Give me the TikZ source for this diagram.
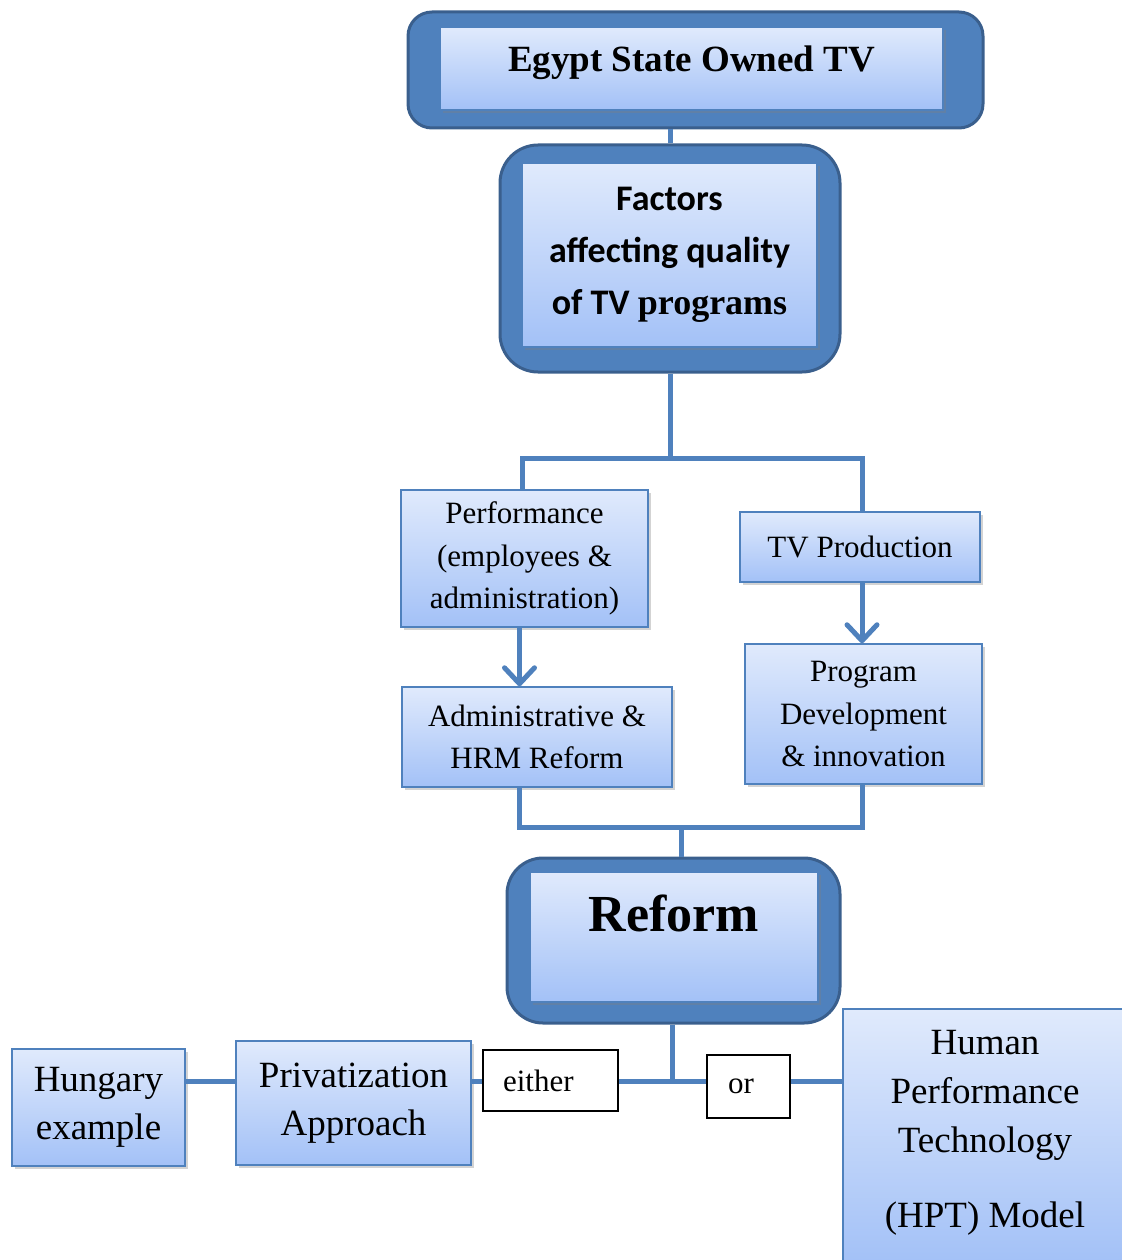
\documentclass[tikz,border=0pt]{standalone}
\usepackage{fontspec}
\setmainfont{Liberation Serif}
\newfontfamily\calibri{Carlito}
\usepackage{tikz}
\usetikzlibrary{shapes,arrows.meta,shadows}

\definecolor{frameblue}{HTML}{4F81BD}
\definecolor{framedark}{HTML}{3A5F8D}
\definecolor{fadetop}{HTML}{E0EAFC}
\definecolor{fadebottom}{HTML}{A3C1F7}

\begin{document}
\begin{tikzpicture}
		[
		x = 1pt, y = -1pt,
		frame/.style = {draw = framedark, fill = frameblue, line width = 3, rounded corners = 30},
		panel/.style = {draw = frameblue, line width = 1.5, top color = fadetop, bottom color = fadebottom,
			drop shadow = {shadow xshift = 3pt, shadow yshift = -3pt, opacity = 0.35},
			align = center, inner sep = 0},
		wordbox/.style = {draw = black, fill = white, line width = 1.5, align = left, inner ysep = 0,
			font = \fontsize{31}{36}\selectfont},
		link/.style = {draw = frameblue, line width = 5},
		pointer/.style = {link, -{Straight Barb[length = 16pt, width = 30pt, line cap = round, line join = round]}},
		midtext/.style = {font = \fontsize{31}{42.5}\selectfont},
		lowtext/.style = {font = \fontsize{37}{48}\selectfont},
		]
		
		\useasboundingbox (0,0) rectangle (1121,1260);
		
		% framed headers
		\node[frame, minimum width = 575, minimum height = 116, rounded corners = 24] (egyptframe) at (695.5,70) {};
		\node[panel, minimum width = 503, minimum height = 83] (egypt) at (691.5,68.5) {};
		\node[anchor = base, font = \bfseries\fontsize{37}{44}\selectfont] (egypttext)
			at ([yshift = -45pt]egypt.north) {Egypt State Owned TV};
		
		\node[frame, minimum width = 340, minimum height = 227, rounded corners = 38] (factorsframe) at (670,258.5) {};
		\node[panel, minimum width = 295, minimum height = 184,
			font = \calibri\bfseries\fontsize{36}{52}\selectfont] (factors) at (669.5,255)
			{Factors\\affecting quality\\of TV {\rmfamily programs}};
		
		\node[frame, minimum width = 333, minimum height = 165, rounded corners = 36] (reformframe) at (673.5,940.5) {};
		\node[panel, minimum width = 288, minimum height = 130] (reform) at (674,937) {};
		\node[anchor = base, font = \bfseries\fontsize{52}{60}\selectfont] (reformtext)
			at ([yshift = -60pt]reform.north) {Reform};
		
		% factors
		\node[panel, midtext, minimum width = 247, minimum height = 137] (perf) at (524.5,558.5)
			{Performance\\(employees \&\\administration)};
		\node[panel, midtext, minimum width = 240, minimum height = 70] (tvprod) at (860,547) {TV Production};
		\node[panel, midtext, minimum width = 270, minimum height = 100] (admin) at (537,737)
			{Administrative \&\\HRM Reform};
		\node[panel, midtext, minimum width = 237, minimum height = 140] (prog) at (863.5,714)
			{Program\\Development\\\& innovation};
		
		% choices
		\node[panel, lowtext, minimum width = 173, minimum height = 117] (hungary) at (98.5,1107.5) {Hungary\\example};
		\node[panel, lowtext, minimum width = 235, minimum height = 124] (privat) at (353.5,1103) {Privatization\\Approach};
		\node[wordbox, inner xsep = 20, text width = 95, minimum height = 61] (either) at (550.5,1080.5) {either};
		\node[wordbox, inner xsep = 21, text width = 41, minimum height = 63] (or) at (748.5,1086.5) {or};
		\node[panel, minimum width = 282, minimum height = 253] (hpt) at (984,1135.5) {};
		\node[align = center, font = \fontsize{37}{49}\selectfont] (hpttext) at (985,1133)
			{Human\\Performance\\Technology\\[26pt](HPT) Model};
		
		\coordinate (split) at (670,458);
		\coordinate (merge) at (681,827);
		\coordinate (choice) at (672,1081);
		
		\draw[link] (factorsframe.north) -- (factorsframe.north |- egyptframe.south);
		\draw[link] (factorsframe.south) -- (split);
		\draw[link] ([xshift = -2pt]perf.north) |- (split) -| ([xshift = 2pt]tvprod.north);
		\draw[pointer] ([xshift = -5pt]perf.south) -- ([xshift = -5pt]perf.south |- admin.north);
		\draw[pointer] ([xshift = 2pt]tvprod.south) -- ([xshift = 2pt]tvprod.south |- prog.north);
		\draw[link] ([xshift = -18pt]admin.south) |- (merge) -| ([xshift = -1.5pt]prog.south);
		\draw[link] (merge) -- (merge |- reformframe.north);
		\draw[link] (reformframe.south -| choice) -- (choice);
		\draw[link] (hungary.east |- choice) -- (privat.west |- choice);
		\draw[link] (privat.east |- choice) -- (either.west |- choice);
		\draw[link] (either.east |- choice) -- (or.west |- choice);
		\draw[link] (or.east |- choice) -- (hpt.west |- choice);
		
\end{tikzpicture}
\end{document}
